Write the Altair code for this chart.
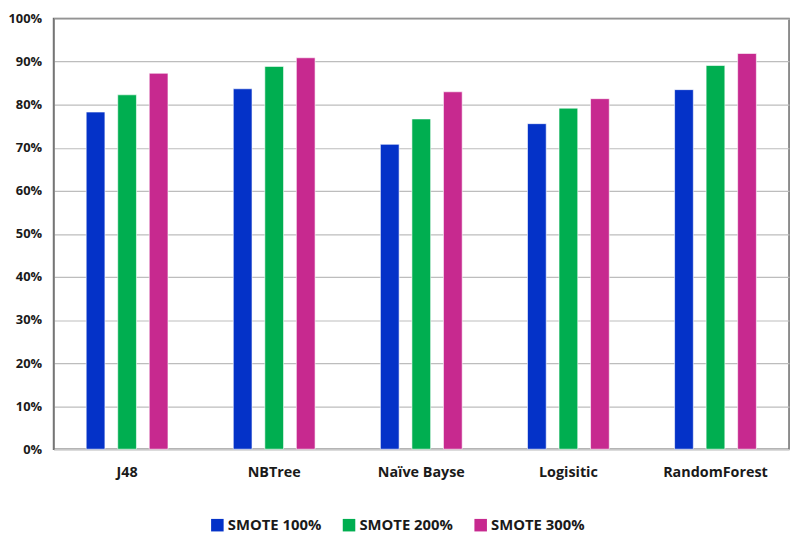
import altair as alt
import pandas as pd

categories = ["J48", "NBTree", "Naïve Bayse", "Logisitic", "RandomForest"]
series = ["SMOTE 100%", "SMOTE 200%", "SMOTE 300%"]
smote100 = [0.783, 0.837, 0.708, 0.756, 0.835]
smote200 = [0.823, 0.889, 0.767, 0.792, 0.891]
smote300 = [0.873, 0.909, 0.830, 0.814, 0.919]
colors = ["#0432C8", "#00AE50", "#C7298F"]

rows = []
for i, c in enumerate(categories):
    for s, vals in zip(series, [smote100, smote200, smote300]):
        rows.append({"category": c, "series": s, "value": vals[i]})
df = pd.DataFrame(rows)

FONT = "Open Sans"

chart = alt.Chart(df).mark_bar(stroke="white", strokeWidth=0.6).encode(
    x=alt.X("category:N", sort=categories, title=None,
            scale=alt.Scale(paddingInner=0.444, paddingOuter=0.222),
            axis=alt.Axis(labelAngle=0, ticks=False, domain=True, domainColor="#C8C8C8",
                          domainWidth=1.5, labelFont=FONT, labelFontSize=14.5,
                          labelFontWeight="bold", labelColor="#1a1a1a", labelPadding=17,
                          grid=False)),
    xOffset=alt.XOffset("series:N", sort=series,
                        scale=alt.Scale(paddingInner=0.406, paddingOuter=0)),
    y=alt.Y("value:Q", title=None,
            scale=alt.Scale(domain=[0, 1], nice=False),
            axis=alt.Axis(format=".0%", values=[i / 10 for i in range(11)],
                          ticks=False, domainColor="#7a7a7a", domainWidth=1.5,
                          gridColor="#BDBDBD", gridWidth=1.2,
                          labelFont=FONT, labelFontSize=13, labelFontWeight="bold",
                          labelColor="#1a1a1a", labelPadding=12)),
    color=alt.Color("series:N", sort=series, title=None,
                    scale=alt.Scale(domain=series, range=colors),
                    legend=alt.Legend(orient="none", legendX=158, legendY=504,
                                      direction="horizontal", symbolType="square",
                                      symbolSize=160, symbolStrokeWidth=0,
                                      labelFont=FONT, labelFontSize=15,
                                      labelFontWeight="bold", labelColor="#1a1a1a",
                                      columnPadding=20, labelOffset=3)),
).properties(
    width=743, height=435,
    padding={"left": 46, "top": 8, "right": 3, "bottom": 86},
    autosize=alt.AutoSizeParams(type="none"),
).configure_view(
    stroke="#6a6a6a", strokeWidth=1.5
)

chart.save("out.html", embed_options={"renderer": "svg", "actions": False})
